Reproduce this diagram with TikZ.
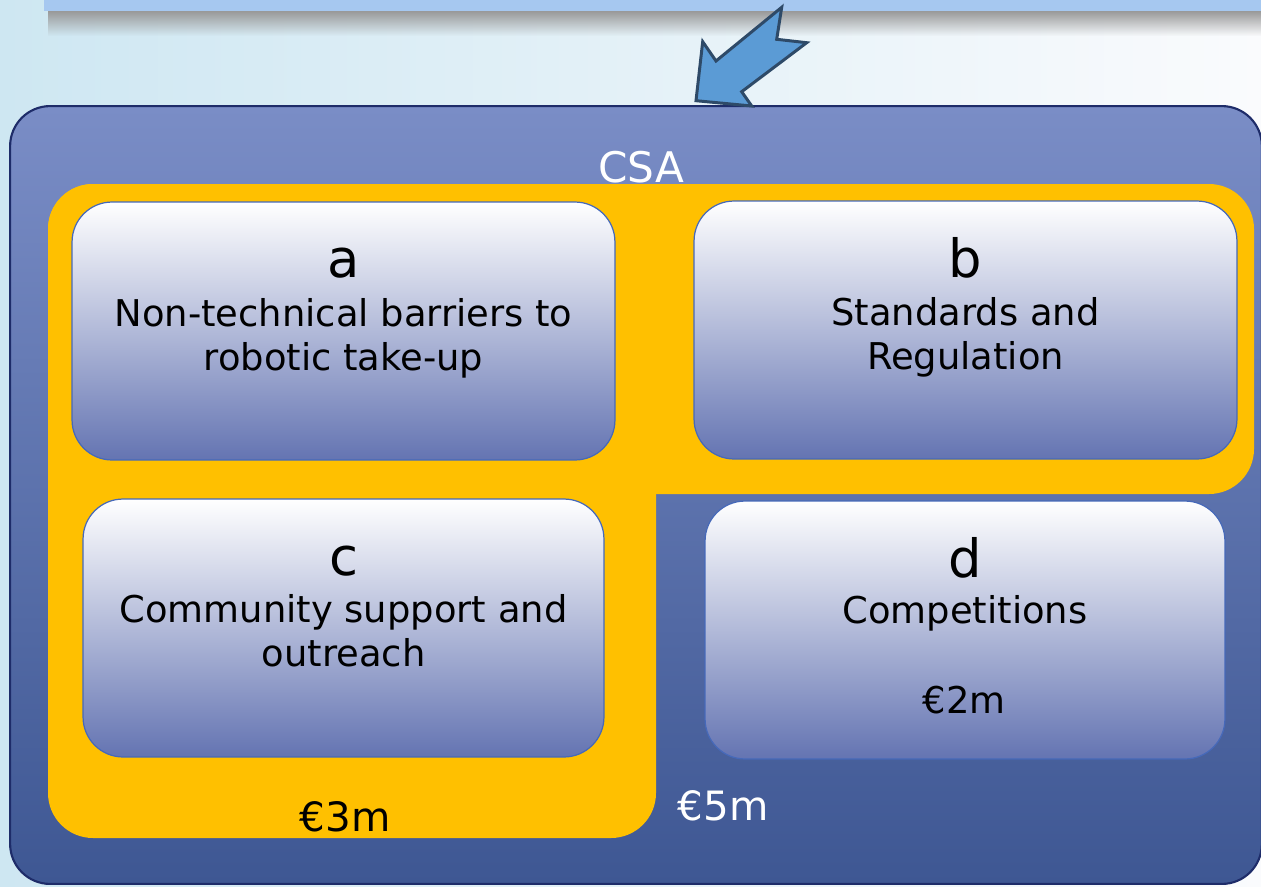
\documentclass[tikz,border=0pt]{standalone}
\usepackage{fontspec}
\setmainfont{DejaVu Sans}
\usetikzlibrary{fadings}

\definecolor{bgleft}{RGB}{206,231,242}
\definecolor{bgmid}{RGB}{228,238,246}
\definecolor{bgright}{RGB}{250,251,253}
\definecolor{barblue}{RGB}{166,200,240}
\definecolor{csatop}{RGB}{122,141,198}
\definecolor{csabot}{RGB}{62,87,147}
\definecolor{csaline}{RGB}{30,44,105}
\definecolor{fundyellow}{RGB}{255,192,0}
\definecolor{boxbot}{RGB}{100,116,178}
\definecolor{boxline}{RGB}{70,105,185}
\definecolor{arrowfill}{RGB}{91,155,213}
\definecolor{arrowline}{RGB}{46,74,104}

\begin{document}
\begin{tikzpicture}[x=0.02cm, y=-0.02cm,
  subbox/.style={draw=boxline, line width=0.7pt, rounded corners=0.8cm,
    top color=white, bottom color=boxbot, minimum height=5.16cm, minimum width=#1},
  letter/.style={anchor=base, font=\fontsize{30pt}{34pt}\selectfont},
  body/.style={anchor=base, align=center, font=\fontsize{21pt}{25pt}\selectfont},
  money/.style={anchor=base, font=\fontsize{23pt}{26pt}\selectfont}]
\useasboundingbox (0,0) rectangle (1261,886);
% background
\fill[left color=bgleft, middle color=bgmid, right color=bgright] (0,0) rectangle (1261,886);
\fill[barblue] (44,0) rectangle (1261,11);
\fill[gray!80, path fading=south] (48,11) rectangle (1261,36);
% CSA box
\node[draw=csaline, line width=1.2pt, rounded corners=0.8cm, top color=csatop, bottom color=csabot,
  minimum width=25.04cm, minimum height=15.56cm] (csabox) at (636,495) {};
\node[anchor=base, text=white, font=\fontsize{24pt}{28pt}\selectfont] (csa) at (641,182) {CSA};
% arrow into CSA
\draw[fill=arrowfill, draw=arrowline, line width=1.7pt, line join=miter]
  (781.7,7.3) -- (776.7,39.3) -- (806.7,42.7) -- (741.7,91.7) -- (751.7,106)
  -- (696,100.7) -- (702.7,41.7) -- (716,61) -- cycle;
% EUR 3m part
\fill[fundyellow, rounded corners=0.9cm] (48,184) rectangle (1254,494);
\fill[fundyellow, rounded corners=0.9cm] (48,184) rectangle (656,838);
% topics
\node[subbox=10.86cm] (a) at (343.5,331) {};
\node[subbox=10.86cm] (b) at (965.5,330) {};
\node[subbox=10.42cm] (c) at (343.5,628) {};
\node[subbox=10.40cm] (d) at (965,630) {};
\node[letter] (la) at (343.5,277) {a};
\node[body] (ta) at (343.5,370) {Non-technical barriers to\\robotic take-up};
\node[letter] (lb) at (965.5,277) {b};
\node[body] (tb) at (965.5,369) {Standards and\\Regulation};
\node[letter] (lc) at (343.5,575) {c};
\node[body] (tc) at (343.5,666) {Community support and\\outreach};
\node[letter] (ld) at (965,577) {d};
\node[body] (td) at (965,623) {Competitions};
\node[body] (md) at (964,713) {€2m};
\node[money] (m3) at (345,831) {€3m};
\node[money, text=white] (m5) at (723,820) {€5m};
\end{tikzpicture}
\end{document}
